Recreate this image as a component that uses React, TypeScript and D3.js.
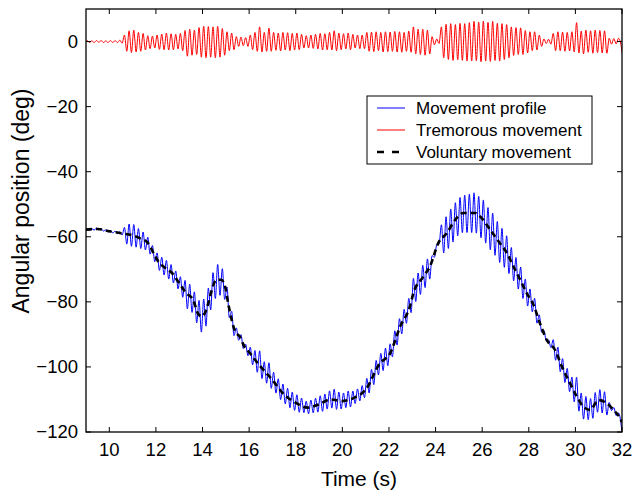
import React from "react";
import * as d3 from "d3";

// ---------- data ----------
const xTicks = [10, 12, 14, 16, 18, 20, 22, 24, 26, 28, 30, 32];
const yTicks = [0, -20, -40, -60, -80, -100, -120];

// Voluntary movement (black dashed) – knots
const voluntaryTime = [
  9.0, 9.5, 10.0, 10.5, 11.0, 11.3, 11.65, 11.9, 12.1, 12.4, 12.7, 12.9, 13.1, 13.3,
  13.6, 13.8, 13.95, 14.1, 14.25, 14.4, 14.6, 14.8, 14.97, 15.1, 15.25, 15.4, 15.6,
  15.8, 16.0, 16.5, 17.0, 17.5, 18.0, 18.5, 19.0, 19.5, 20.0, 20.5, 21.0, 21.6, 22.05,
  22.48, 22.9, 23.05, 23.48, 23.76, 24.12, 24.48, 24.84, 25.19, 25.7, 25.98, 26.34,
  26.7, 27.06, 27.34, 27.63, 27.91, 28.2, 28.48, 28.77, 29.13, 29.42, 29.77, 30.06,
  30.34, 30.63, 30.99, 31.35, 31.63, 31.92, 32.0,
];
const voluntaryAngle = [
  -57.8, -57.6, -58.3, -58.9, -59.6, -60.4, -61.9, -65.0, -67.6, -69.6, -71.2, -73.2,
  -75.3, -77.3, -79.4, -83.5, -84.5, -83.5, -80.4, -76.3, -73.2, -73.2, -75.3, -80.4,
  -85.5, -89.1, -90.7, -93.8, -95.5, -100.0, -104.0, -108.5, -111.0, -112.5, -111.5,
  -110.0, -110.5, -109.5, -107.0, -99.0, -95.8, -87.6, -81.4, -77.3, -72.2, -69.1,
  -61.9, -58.9, -54.8, -52.7, -52.7, -54.3, -57.8, -61.4, -65.0, -69.1, -73.2, -77.3,
  -80.9, -86.6, -91.7, -94.8, -99.9, -105.0, -109.1, -112.2, -113.2, -110.2, -111.2,
  -113.2, -115.8, -117.0,
];

// Tremorous movement: successive peaks / troughs (deg), one row per second (9 s … 31 s),
// extrema every 0.1 s starting at 9.05 s
const tremorStart = 9.05;
const tremorStep = 0.1;
const tremorRows = [
  [0.3, -0.3, 0.2, -0.3, 0.3, -0.2, 0.3, -0.3, 0.2, -0.3], // 9
  [0.3, -0.3, 0.3, -0.3, 0.4, -0.5, 2.0, -3.0, 3.3, -3.4], // 10
  [3.5, -3.2, 2.8, -3.0, 2.5, -2.6, 1.8, -2.2, 1.7, -2.0], // 11
  [2.0, -2.4, 2.3, -2.5, 2.6, -2.6, 2.4, -2.5, 2.2, -2.3], // 12
  [2.5, -2.8, 3.4, -4.5, 3.8, -4.2, 3.5, -4.0, 4.3, -4.8], // 13
  [4.7, -5.0, 4.6, -4.8, 4.5, -5.0, 4.7, -4.8, 4.0, -4.2], // 14
  [3.0, -2.8, 2.6, -2.5, 1.5, -1.5, 1.4, -1.3, 1.2, -1.5], // 15
  [2.0, -2.5, 2.8, -3.0, 4.5, -3.2, 2.8, -3.0, 4.1, -3.0], // 16
  [2.8, -2.7, 2.6, -2.9, 2.8, -2.6, 2.7, -2.8, 2.5, -2.6], // 17
  [2.6, -2.5, 2.2, -2.0, 1.8, -2.0, 2.0, -2.1, 2.2, -2.3], // 18
  [2.5, -2.6, 2.4, -2.5, 2.8, -2.6, 3.3, -2.8, 2.6, -2.5], // 19
  [2.4, -2.3, 2.6, -2.5, 2.2, -2.0, 2.0, -2.2, 2.0, -2.2], // 20
  [2.8, -3.0, 2.9, -3.1, 3.0, -2.8, 2.8, -3.2, 3.0, -3.1], // 21
  [2.9, -3.0, 3.1, -3.2, 3.0, -3.3, 2.8, -3.0, 3.2, -3.3], // 22
  [4.5, -3.8, 3.8, -4.0, 3.8, -4.2, 3.5, -3.8, 1.5, -1.0], // 23
  [0.8, -0.6, 4.5, -5.0, 5.3, -5.5, 5.5, -5.8, 5.2, -5.6], // 24
  [5.6, -5.8, 5.5, -6.0, 5.8, -6.0, 6.2, -5.9, 6.0, -6.2], // 25
  [6.3, -6.0, 5.9, -6.1, 6.2, -5.8, 5.6, -6.0, 5.5, -5.5], // 26
  [5.2, -5.0, 4.5, -4.3, 4.3, -4.0, 4.2, -4.0, 3.4, -3.5], // 27
  [3.0, -2.8, 3.0, -2.6, 2.0, -1.5, 0.8, -0.6, 0.7, -0.8], // 28
  [2.5, -2.8, 3.0, -2.8, 2.9, -3.0, 2.8, -2.9, 3.0, -3.2], // 29
  [5.8, -3.5, 3.2, -3.8, 3.5, -3.3, 3.3, -3.6, 3.5, -3.4], // 30
  [3.4, -3.5, 3.3, -3.6, 1.0, -0.8, 0.9, -0.7, 1.0, -0.8], // 31
];
const tremorFirst = { t: 9.0, v: 0 };
const tremorLast = { t: 32.0, v: -3.4 };

const legendLabels = ["Movement profile", "Tremorous movement", "Voluntary movement"];

// ---------- layout ----------
const W = 634;
const H = 491;
const L = 86;
const R = 622;
const T = 9;
const B = 432;
const FONT = "'Liberation Sans', Arial, Helvetica, sans-serif";

export default function App() {
  const x = d3.scaleLinear().domain([9, 32]).range([L, R]);
  const y = d3.scaleLinear().domain([-120, 10]).range([B, T]);
  const vol = d3.scaleLinear().domain(voluntaryTime).range(voluntaryAngle);

  const tremor: { t: number; v: number }[] = [tremorFirst];
  tremorRows.flat().forEach((v, i) => {
    tremor.push({ t: +(tremorStart + i * tremorStep).toFixed(3), v });
  });
  tremor.push(tremorLast);

  const profile = tremor.map((d) => ({ t: d.t, v: vol(d.t) + d.v }));
  const voluntary = voluntaryTime.map((t, i) => ({ t, v: voluntaryAngle[i] }));

  const line = d3
    .line<{ t: number; v: number }>()
    .x((d) => x(d.t))
    .y((d) => y(d.v))
    .curve(d3.curveMonotoneX);

  const tickLen = 5;
  const legX = 367;
  const legY = 96;
  const legW = 225;
  const legH = 68;
  const rows = [108, 130, 152];

  return (
    <svg
      width={W}
      height={H}
      style={{ position: "absolute", left: 0, top: 0, background: "#fff" }}
      fontFamily={FONT}
    >
      <defs>
        <clipPath id="plot">
          <rect x={L} y={T} width={R - L} height={B - T} />
        </clipPath>
      </defs>
      <rect x={0} y={0} width={W} height={H} fill="#fff" />

      <g clipPath="url(#plot)" fill="none">
        <path d={line(profile) || ""} stroke="#0000ff" strokeWidth={1} />
        <path d={line(tremor) || ""} stroke="#ff0000" strokeWidth={1} />
        <path
          d={line(voluntary) || ""}
          stroke="#000"
          strokeWidth={2.6}
          strokeDasharray="6,4"
        />
      </g>

      {/* axes box */}
      <rect x={L} y={T} width={R - L} height={B - T} fill="none" stroke="#000" strokeWidth={1.3} />

      {/* x ticks */}
      {xTicks.map((t) => (
        <g key={"x" + t}>
          <line x1={x(t)} x2={x(t)} y1={B} y2={B - tickLen} stroke="#000" strokeWidth={1} />
          <line x1={x(t)} x2={x(t)} y1={T} y2={T + tickLen} stroke="#000" strokeWidth={1} />
          <text x={x(t)} y={456} fontSize={18.5} textAnchor="middle" fill="#000">
            {t}
          </text>
        </g>
      ))}

      {/* y ticks */}
      {yTicks.map((v) => (
        <g key={"y" + v}>
          <line x1={L} x2={L + tickLen} y1={y(v)} y2={y(v)} stroke="#000" strokeWidth={1} />
          <line x1={R} x2={R - tickLen} y1={y(v)} y2={y(v)} stroke="#000" strokeWidth={1} />
          <text
            x={78}
            y={y(v)}
            dy="0.35em"
            fontSize={18.5}
            textAnchor="end"
            fill="#000"
          >
            {v < 0 ? "\u2212" + Math.abs(v) : String(v)}
          </text>
        </g>
      ))}

      {/* axis labels */}
      <text x={359} y={486} fontSize={21} textAnchor="middle" fill="#000">
        Time (s)
      </text>
      <text
        transform={`translate(29, 201) rotate(-90)`}
        fontSize={23}
        textAnchor="middle"
        fill="#000"
      >
        Angular position (deg)
      </text>

      {/* legend */}
      <rect x={legX} y={legY} width={legW} height={legH} fill="#fff" stroke="#000" strokeWidth={1} />
      <line x1={377} x2={405} y1={rows[0]} y2={rows[0]} stroke="#0000ff" strokeWidth={1} />
      <line x1={377} x2={405} y1={rows[1]} y2={rows[1]} stroke="#ff0000" strokeWidth={1} />
      <line
        x1={377}
        x2={405}
        y1={rows[2]}
        y2={rows[2]}
        stroke="#000"
        strokeWidth={2.6}
        strokeDasharray="7,8"
      />
      {legendLabels.map((s, i) => (
        <text key={s} x={416} y={rows[i]} dy="0.35em" fontSize={17} fill="#000">
          {s}
        </text>
      ))}
    </svg>
  );
}
